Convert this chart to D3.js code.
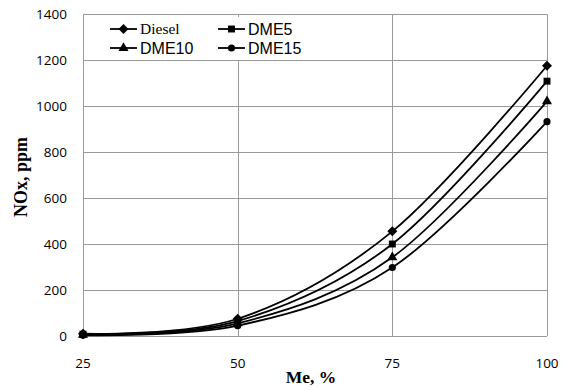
<!DOCTYPE html>
<html>
<head>
<meta charset="utf-8">
<script src="https://cdn.jsdelivr.net/npm/d3@7"></script>
<style>
  html, body { margin: 0; padding: 0; background: #fff; }
  svg { display: block; }
</style>
</head>
<body>
<svg id="chart" width="568" height="390"></svg>
<script>
const loads = [25, 50, 75, 100];
const diesel = [10, 75, 455, 1175];
const dme5 = [8, 65, 400, 1108];
const dme10 = [5, 55, 342, 1020];
const dme15 = [3, 45, 298, 932];
const yTicks = [0, 200, 400, 600, 800, 1000, 1200, 1400];

// square diamond like the spreadsheet marker (d3's own is stretched)
const squareDiamond = {
  draw(ctx, size) {
    const r = Math.sqrt(size / 2);
    ctx.moveTo(0, -r); ctx.lineTo(r, 0); ctx.lineTo(0, r); ctx.lineTo(-r, 0); ctx.closePath();
  }
};

const series = [
  { name: 'Diesel', values: diesel, symbol: squareDiamond, size: 50, font: 'Liberation Serif, Times New Roman, serif', fs: 15.5 },
  { name: 'DME5', values: dme5, symbol: d3.symbolSquare, size: 48, font: 'Liberation Sans, Arial, sans-serif', fs: 16 },
  { name: 'DME10', values: dme10, symbol: d3.symbolTriangle, size: 44, font: 'Liberation Sans, Arial, sans-serif', fs: 16 },
  { name: 'DME15', values: dme15, symbol: d3.symbolCircle, size: 40, font: 'Liberation Sans, Arial, sans-serif', fs: 16 },
];

const plotL = 83, plotR = 547, plotT = 14, plotB = 336;
const svg = d3.select('#chart');
const x = d3.scaleLinear().domain([25, 100]).range([plotL, plotR]);
const y = d3.scaleLinear().domain([0, 1400]).range([plotB, plotT]);
const grid = '#9a9a9a';

// grid lines
svg.append('g').selectAll('line').data(yTicks).enter().append('line')
  .attr('x1', plotL).attr('x2', plotR)
  .attr('y1', d => y(d) + 0.5).attr('y2', d => y(d) + 0.5)
  .attr('stroke', grid).attr('stroke-width', 1);
svg.append('g').selectAll('line').data(loads).enter().append('line')
  .attr('x1', d => Math.round(x(d)) + 0.5).attr('x2', d => Math.round(x(d)) + 0.5)
  .attr('y1', plotT).attr('y2', plotB)
  .attr('stroke', grid).attr('stroke-width', 1);

// tick labels
const tickFont = 'Open Sans, Calibri, sans-serif';
svg.append('g').selectAll('text').data(yTicks).enter().append('text')
  .attr('x', 67).attr('y', d => y(d)).attr('dy', '0.35em')
  .attr('text-anchor', 'end').attr('font-family', tickFont).attr('font-size', 13.5)
  .attr('fill', '#000').text(d => d);
svg.append('g').selectAll('text').data(loads).enter().append('text')
  .attr('x', d => x(d)).attr('y', 363).attr('dy', '0.35em')
  .attr('text-anchor', 'middle').attr('font-family', tickFont).attr('font-size', 13.5)
  .attr('fill', '#000').text(d => d);

// axis titles
svg.append('text')
  .attr('transform', 'translate(27,177) rotate(-90)')
  .attr('text-anchor', 'middle').attr('font-family', 'Liberation Serif, Times New Roman, serif')
  .attr('font-weight', 'bold').attr('font-size', 18).text('NOx, ppm');
svg.append('text')
  .attr('x', 311).attr('y', 383)
  .attr('text-anchor', 'middle').attr('font-family', 'Liberation Serif, Times New Roman, serif')
  .attr('font-weight', 'bold').attr('font-size', 17.5).text('Me, %');

// lines
const line = d3.line()
  .x((d, i) => x(loads[i]))
  .y(d => y(d))
  .curve(d3.curveCatmullRom.alpha(0));

const lines = svg.append('g');
series.forEach(s => {
  lines.append('path').datum(s.values)
    .attr('d', line).attr('fill', 'none')
    .attr('stroke', '#000').attr('stroke-width', 1.8);
  lines.append('g').selectAll('path').data(s.values).enter().append('path')
    .attr('transform', (d, i) => `translate(${x(loads[i])},${y(d)})`)
    .attr('d', d3.symbol().type(s.symbol).size(s.size))
    .attr('fill', '#000');
});

// legend
const legend = svg.append('g');
legend.append('rect').attr('x', 97).attr('y', 17).attr('width', 218).attr('height', 43).attr('fill', '#fff');
const legPos = [[110, 29], [218, 29], [110, 48], [218, 48]];
series.forEach((s, i) => {
  const [lx, ly] = legPos[i];
  legend.append('line').attr('x1', lx).attr('x2', lx + 27).attr('y1', ly).attr('y2', ly)
    .attr('stroke', '#000').attr('stroke-width', 1.8);
  legend.append('path').attr('transform', `translate(${lx + 13.5},${ly})`)
    .attr('d', d3.symbol().type(s.symbol).size(s.size)).attr('fill', '#000');
  legend.append('text').attr('x', lx + 30).attr('y', ly).attr('dy', '0.35em')
    .attr('font-family', s.font).attr('font-size', s.fs).attr('fill', '#000').text(s.name);
});
</script>
</body>
</html>
